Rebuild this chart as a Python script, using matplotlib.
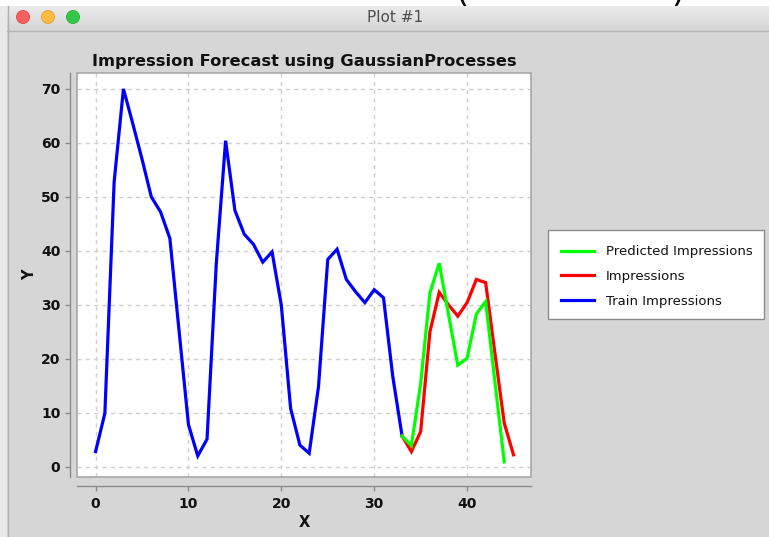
import numpy as np
import matplotlib
matplotlib.use("Agg")
import matplotlib.pyplot as plt
from matplotlib.patches import Rectangle, Circle
from matplotlib.lines import Line2D
from matplotlib.colors import LinearSegmentedColormap

# ---- data -------------------------------------------------------------
train_x = list(range(0, 34))
train_y = [2.8, 9.9, 52.8, 70.0, 63.6, 57.0, 50.0, 47.2, 42.3, 25.0,
           7.8, 2.0, 5.1, 37.7, 60.4, 47.5, 43.1, 41.2, 37.9, 39.8,
           29.9, 10.8, 4.0, 2.5, 14.8, 38.4, 40.3, 34.7, 32.4, 30.4,
           32.8, 31.3, 16.7, 5.7]

actual_x = list(range(33, 46))
actual_y = [5.7, 2.8, 6.5, 25.0, 32.3, 30.0, 27.9, 30.4, 34.7, 34.1,
            21.0, 8.1, 2.2]

pred_x = list(range(33, 45))
pred_y = [5.7, 3.9, 15.4, 32.2, 37.7, 28.2, 18.8, 20.1, 28.3, 30.6,
          15.7, 0.9]

x_ticks = [0, 10, 20, 30, 40]
y_ticks = [0, 10, 20, 30, 40, 50, 60, 70]

title = "Impression Forecast using GaussianProcesses"
window_title = "Plot #1"
series_labels = ["Predicted Impressions", "Impressions", "Train Impressions"]

# ---- figure / window frame -------------------------------------------
W, H = 769, 537
fig = plt.figure(figsize=(W / 100, H / 100), dpi=100)
fig.patch.set_facecolor("#d6d6d6")


def fx(px):
    return px / W


def fy(py):
    return 1 - py / H


# strip above the window, with the lower ends of two brackets
top_ax = fig.add_axes([0, fy(6), 1, 6 / H])
top_ax.set_xlim(0, W)
top_ax.set_ylim(6, 0)
top_ax.axis("off")
top_ax.add_patch(Rectangle((0, 0), W, 6, color="white", zorder=0))
for cx, ch in [(462, "("), (678, ")")]:
    top_ax.text(cx, 9, ch, fontsize=24, ha="center", va="bottom",
                color="black", clip_on=True, zorder=2)

# title bar (pixel coordinates so the buttons stay round)
bar_ax = fig.add_axes([fx(7), fy(30), 1 - fx(7), 24 / H])
bar_ax.imshow(np.linspace(0, 1, 64)[:, None], aspect="auto",
              cmap=LinearSegmentedColormap.from_list("bar", ["#ececec", "#d5d5d5"]),
              extent=[7, W, 30, 6])
bar_ax.set_xlim(7, W)
bar_ax.set_ylim(30, 6)
bar_ax.axis("off")
for cx, col, ec in [(23, "#fc605c", "#de4a44"), (48, "#fdbc40", "#de9f34"),
                    (73, "#34c84a", "#27aa35")]:
    bar_ax.add_patch(Circle((cx, 17), 6.5, facecolor=col, edgecolor=ec, lw=0.6))
bar_ax.text(395, 17, window_title, ha="center", va="center",
            fontsize=11, color="#4d4d4d")

fig.add_artist(Line2D([fx(7), 1], [fy(30.5), fy(30.5)], color="#b5b5b5", lw=1))
fig.add_artist(Rectangle((0, 0), fx(7), fy(6), transform=fig.transFigure,
                         facecolor="#e9e9e9", edgecolor="none"))
fig.add_artist(Line2D([fx(7.5), fx(7.5)], [0, fy(6)], color="#b0b0b0", lw=1))

# ---- plot area -------------------------------------------------------
left, right, top, bottom = 77, 530.7, 72.7, 476.7
ax = fig.add_axes([fx(left), fy(bottom), fx(right) - fx(left), (bottom - top) / H])
ax.set_facecolor("white")

ax.grid(True, color="#cfcfcf", lw=1.0, linestyle=(0, (3, 3)))
ax.set_axisbelow(True)

l_train, = ax.plot(train_x, train_y, color="#0000ff", lw=2.3, solid_joinstyle="miter",
                   label=series_labels[2], zorder=3)
l_act, = ax.plot(actual_x, actual_y, color="#ff0000", lw=2.3, solid_joinstyle="miter",
                 label=series_labels[1], zorder=4)
l_pred, = ax.plot(pred_x, pred_y, color="#00ff00", lw=2.3, solid_joinstyle="miter",
                  label=series_labels[0], zorder=5)

ax.set_xlim(-2.0, 46.85)
ax.set_ylim(-1.85, 73.0)
ax.set_xticks(x_ticks)
ax.set_yticks(y_ticks)

for s in ["top", "right"]:
    ax.spines[s].set_visible(False)
ax.spines["left"].set_position(("outward", 5))
ax.spines["bottom"].set_position(("outward", 6.5))
for s in ["left", "bottom"]:
    ax.spines[s].set_color("#8a8a8a")
    ax.spines[s].set_linewidth(1.0)
ax.add_patch(Rectangle((0, 0), 1, 1, transform=ax.transAxes, fill=False,
                       edgecolor="#a8a8a8", lw=1.2, clip_on=False, zorder=6))

ax.tick_params(axis="both", direction="out", length=3.5, width=1, color="#8a8a8a",
               labelsize=10, labelcolor="#111111")
ax.tick_params(axis="x", pad=4.5)
ax.tick_params(axis="y", pad=3.5)
for lab in ax.get_xticklabels() + ax.get_yticklabels():
    lab.set_fontweight("bold")

ax.set_xlabel("X", fontsize=10.5, fontweight="bold", labelpad=3, color="#111111")
ax.set_ylabel("Y", fontsize=10.5, fontweight="bold", labelpad=3, color="#111111")
ax.set_title(title, fontsize=11.7, fontweight="bold", pad=4.5, color="#111111")

# ---- legend ----------------------------------------------------------
# the box is drawn as its own rectangle, the entries sit inside it
fig.add_artist(Rectangle((fx(548.3), fy(319.3)), fx(764) - fx(548.3),
                         (319.3 - 230) / H, transform=fig.transFigure,
                         facecolor="white", edgecolor="#8a8a8a", lw=1.0, zorder=1))
leg = fig.legend(handles=[l_pred, l_act, l_train], labels=series_labels,
                 loc="upper left", bbox_to_anchor=(fx(546), fy(230)),
                 frameon=False, fontsize=9.5,
                 handlelength=2.45, handletextpad=0.95, labelspacing=0.9,
                 borderpad=1.15, borderaxespad=0)
leg.set_zorder(2)
for t in leg.get_texts():
    t.set_color("#111111")

fig.savefig("out.png", dpi=100, facecolor=fig.get_facecolor())
